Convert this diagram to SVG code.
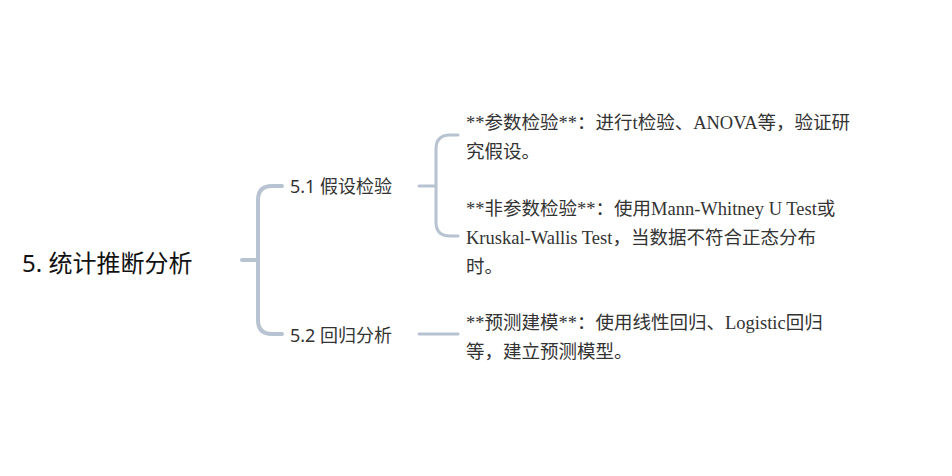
<svg xmlns="http://www.w3.org/2000/svg" width="952" height="476" viewBox="0 0 952 476">
<style>
.c{fill:none;stroke:#b7c3d1;stroke-linecap:round}
.r{font-family:"Noto Sans","Noto Sans CJK SC",sans-serif;font-size:24px;fill:#111}
.m{font-family:"Noto Sans","Noto Sans CJK SC",sans-serif;font-size:18px;fill:#333}
.l{font-family:"Liberation Serif","Noto Sans CJK SC",serif;font-size:18.5px;fill:#333}
</style>
<rect width="952" height="476" fill="#fff"/>
<g id="connectors">
<path class="c" stroke-width="4" d="M242 260H258M282 186H272Q258 186 258 200V320Q258 334 272 334H282"/>
<path class="c" stroke-width="3" d="M419 186H436M458 135H450Q436 135 436 149V222Q436 236 450 236H458"/>
<path class="c" stroke-width="3" d="M419 334H458"/>
</g>
<g id="root"><text class="r" x="22" y="272">5. 统计推断分析</text></g>
<g id="n51"><text class="m" x="290" y="193">5.1 假设检验</text></g>
<g id="n52"><text class="m" x="290" y="342">5.2 回归分析</text></g>
<g id="leaf1"><text class="l" x="466" y="129">**参数检验**：进行t检验、ANOVA等，验证研</text><text class="l" x="466" y="158">究假设。</text></g>
<g id="leaf2"><text class="l" x="466" y="215">**非参数检验**：使用Mann-Whitney U Test或</text><text class="l" x="466" y="244">Kruskal-Wallis Test，当数据不符合正态分布</text><text class="l" x="466" y="273">时。</text></g>
<g id="leaf3"><text class="l" x="466" y="329">**预测建模**：使用线性回归、Logistic回归</text><text class="l" x="466" y="358">等，建立预测模型。</text></g>
</svg>
